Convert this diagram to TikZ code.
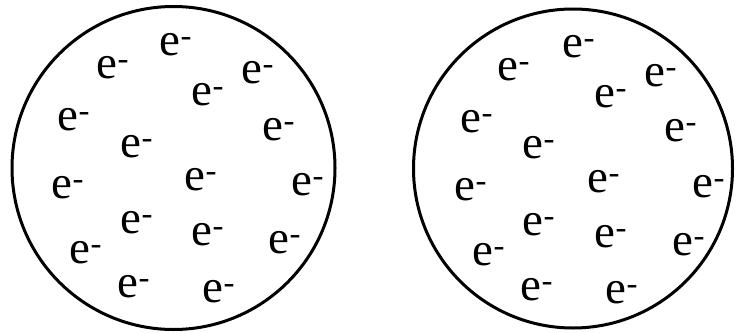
\documentclass[tikz,border=0pt]{standalone}
\usepackage{fontspec}
\setmainfont{Liberation Serif}
\begin{document}
\begin{tikzpicture}[x=1pt,y=-1pt,
  ring/.style={draw=black,line width=3pt},
  electron/.style={inner sep=0pt,anchor=base west,font=\fontsize{47}{52}\selectfont}]
\useasboundingbox (0,0) rectangle (736,332);
\node[ring,circle,minimum size=323pt,inner sep=0pt] (L) at (173.5,168) {};
\node[ring,circle,minimum size=319pt,inner sep=0pt] (R) at (573,168.5) {};
\foreach \x/\y [count=\i] in {170/45,107/68,252/73,202/95,68/120,273/130,131/147,195/180,62/188,302/185,131/223,202/235,80/253,279/243,128/287,213/292}
  \node[electron] (l\i) at (\x-10.5,\y+10.5) {e\textsuperscript{-}};
\foreach \x/\y [count=\i] in {573/47,508/70,655/76,605/97,471/122,675/131,533/148,598/182,465/190,703/187,533/225,605/237,483/255,683/245,531/290,616/293}
  \node[electron] (r\i) at (\x-10.5,\y+10.5) {e\textsuperscript{-}};
\end{tikzpicture}
\end{document}
